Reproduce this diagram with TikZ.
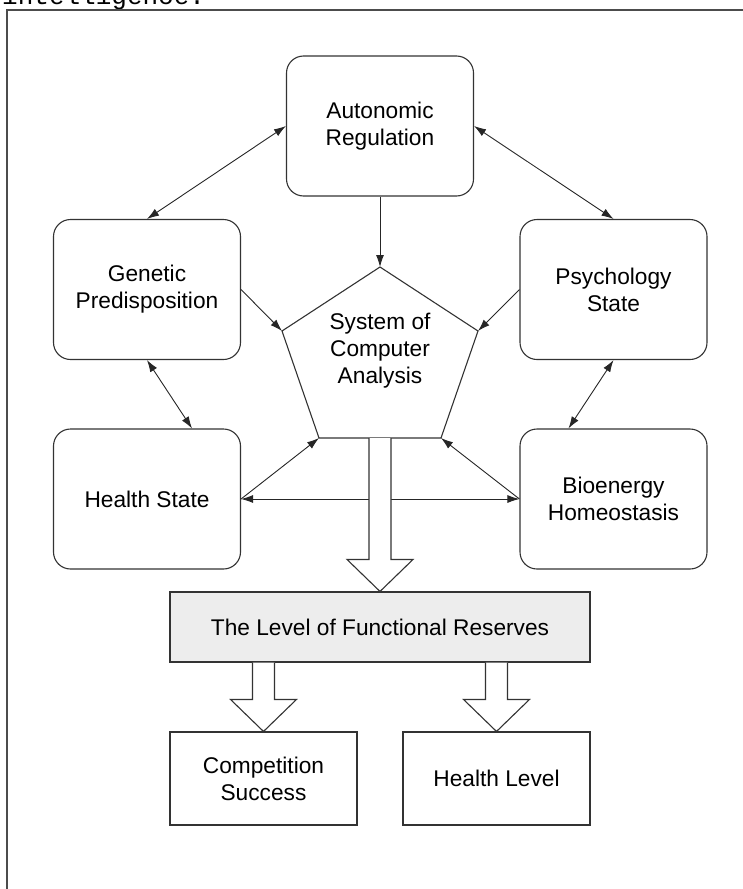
\documentclass[tikz,border=0pt]{standalone}
\usepackage{fontspec}
\setmainfont{Liberation Sans}
\newfontfamily\monofont{Liberation Mono}
\usetikzlibrary{arrows.meta}
\usetikzlibrary{calc}
\tikzset{
    >={Latex[length=12pt,width=8pt]},
    box/.style={draw=black!80,line width=1.1pt,rounded corners=17pt,minimum width=187pt,minimum height=140pt,align=center,inner sep=0pt},
    plainbox/.style={draw=black!80,line width=1.1pt,minimum width=187pt,minimum height=93pt,align=center,inner sep=0pt},
    arr/.style={draw=black!85,line width=0.9pt,->},
    darr/.style={draw=black!85,line width=0.9pt,<->},
    hollow/.style={draw=black!80,line width=1.1pt,fill=white}
}
\def\hollowarrow(#1)(#2){\draw[hollow] ($(#1)+(-11,0)$) -- ($(#2)+(-11,-32)$) -- ($(#2)+(-33,-32)$) -- (#2) -- ($(#2)+(33,-32)$) -- ($(#2)+(11,-32)$) -- ($(#1)+(11,0)$)}

\begin{document}
\begin{tikzpicture}[x=1pt,y=-1pt,font=\fontsize{22.7}{27}\selectfont]
        %%% PAGE %%%
        \useasboundingbox (0,0) rectangle (743,889);
        \clip (0,0) rectangle (743,889);
        \node[anchor=base west,inner sep=0pt,font=\monofont\fontsize{26}{26}\selectfont] (caption) at (2,4) {intelligence.};
        \draw[black!70,line width=1.6pt] (7,889) -- (7,10) -- (743,10);

        %%% FACTORS %%%
        \node[box] (auto) at (380,126) {Autonomic\\Regulation};
        \node[box] (gen) at (147,289.5) {Genetic\\Predisposition};
        \node[box] (psy) at (613.5,289.5) {Psychology\\State};
        \node[box] (health) at (147,499) {Health State};
        \node[box] (bio) at (613.5,499) {Bioenergy\\Homeostasis};

        %%% PENTAGON %%%
        \coordinate (apex) at (380,267);
        \coordinate (ul) at (282,331);
        \coordinate (ur) at (478,331);
        \coordinate (ll) at (319,438);
        \coordinate (lr) at (441,438);
        \draw[black!80,line width=1.1pt] (apex) -- (ur) -- (lr) -- (ll) -- (ul) -- cycle;
        \node[align=center] (sca) at (380,351) {System of\\Computer\\Analysis};

        %%% RESULTS %%%
        \node[plainbox,fill=black!7,minimum width=420pt,minimum height=70pt] (level) at (380,627) {The Level of Functional Reserves};
        \node[plainbox] (comp) at (263.5,778.5) {Competition\\Success};
        \node[plainbox] (hlev) at (496.5,778.5) {Health Level};

        %%% CONNECTORS %%%
        \draw[arr] (auto.south) -- (apex);
        \draw[darr] (auto.west) -- (gen.north);
        \draw[darr] (auto.east) -- (psy.north);
        \draw[arr] (gen.east) -- (ul);
        \draw[arr] (psy.west) -- (ur);
        \draw[darr] (gen.south) -- ($(health.north)+(45,0)$);
        \draw[darr] (psy.south) -- ($(bio.north)+(-45,0)$);
        \draw[darr] (health.east) -- (bio.west);
        \draw[arr] (health.east) -- (ll);
        \draw[arr] (bio.west) -- (lr);

        %%% HOLLOW ARROWS %%%
        \coordinate (scabase) at ($(ll)!0.5!(lr)$);
        \coordinate (levcomp) at (level.south -| comp.north);
        \coordinate (levhlev) at (level.south -| hlev.north);
        \hollowarrow(scabase)(level.north);
        \hollowarrow(levcomp)(comp.north);
        \hollowarrow(levhlev)(hlev.north);
    \end{tikzpicture}
\end{document}
